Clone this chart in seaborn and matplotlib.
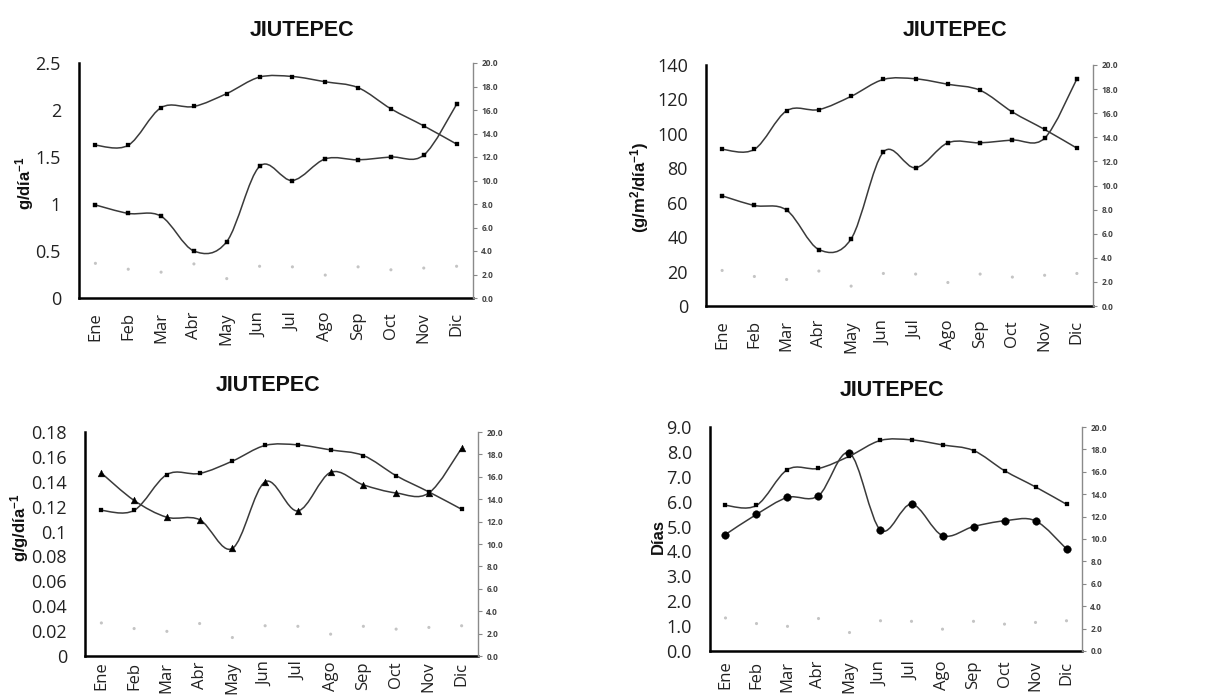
import numpy as np
import matplotlib
matplotlib.use('Agg')
import matplotlib.pyplot as plt
from matplotlib.path import Path
from matplotlib.patches import PathPatch
from matplotlib.ticker import FuncFormatter
import seaborn as sns

# Datos
meses = ['Ene', 'Feb', 'Mar', 'Abr', 'May', 'Jun', 'Jul', 'Ago', 'Sep', 'Oct', 'Nov', 'Dic']
temperatura = [13.0, 13.0, 16.2, 16.3, 17.4, 18.8, 18.85, 18.4, 17.9, 16.1, 14.65, 13.1]
puntos_grises = [2.95, 2.45, 2.2, 2.9, 1.65, 2.7, 2.65, 1.95, 2.65, 2.4, 2.55, 2.7]
crec_diario = [0.99, 0.90, 0.87, 0.50, 0.60, 1.40, 1.25, 1.48, 1.47, 1.50, 1.52, 2.06]
crec_area = [64, 58.4, 55.7, 32.8, 39.0, 89.4, 80.3, 94.8, 94.8, 96.4, 97.5, 131.9]
tasa_relativa = [0.147, 0.125, 0.1115, 0.1095, 0.0864, 0.140, 0.1166, 0.1476, 0.1375, 0.131, 0.131, 0.167]
dias = [4.68, 5.49, 6.17, 6.24, 7.95, 4.86, 5.90, 4.64, 5.00, 5.23, 5.23, 4.10]

W, H = 1213, 700

sns.set_theme(style='white')
plt.rcParams['font.family'] = ['Open Sans', 'DejaVu Sans']
plt.rcParams['mathtext.default'] = 'regular'

fig = plt.figure(figsize=(W / 100, H / 100), dpi=100)
fig.patch.set_facecolor('white')

COLOR_LINEA = '#3a3a3a'


def curva_suave(ax, x, y, color=COLOR_LINEA, lw=1.1):
    # línea suavizada estilo Excel (Bezier tipo Catmull-Rom)
    pts = np.column_stack([x, y]).astype(float)
    ext = np.vstack([pts[0], pts, pts[-1]])
    verts = [pts[0]]
    codes = [Path.MOVETO]
    for i in range(len(pts) - 1):
        p0, p1, p2, p3 = ext[i], ext[i + 1], ext[i + 2], ext[i + 3]
        verts += [p1 + (p2 - p0) / 6, p2 - (p3 - p1) / 6, p2]
        codes += [Path.CURVE4] * 3
    ax.add_patch(PathPatch(Path(verts, codes), fill=False, edgecolor=color, lw=lw, zorder=3))


def panel(caja, valores, ylim, paso, fmt, marcador, tam, ylabel, lab_xy, titulo_xy, xpad=10):
    x0, y0, x1, y1 = caja
    ax = fig.add_axes([x0 / W, 1 - y1 / H, (x1 - x0) / W, (y1 - y0) / H])
    pos = np.arange(len(meses))

    curva_suave(ax, pos, valores)
    sns.scatterplot(x=pos, y=valores, ax=ax, marker=marcador, s=tam, color='black',
                    edgecolor='black', linewidth=0.3, zorder=4, legend=False)
    ax.set_xlim(-0.5, len(meses) - 0.5)
    ax.set_ylim(*ylim)
    ax.set_yticks(np.arange(ylim[0], ylim[1] + paso / 2, paso))
    ax.yaxis.set_major_formatter(FuncFormatter(fmt))
    ax.set_xticks(pos)
    ax.set_xticklabels(meses, rotation=90)
    ax.tick_params(axis='y', length=0, pad=13, labelsize=13, labelcolor='#222222')
    ax.tick_params(axis='x', length=0, pad=xpad, labelsize=12, labelcolor='#222222')
    for s in ['top', 'right']:
        ax.spines[s].set_visible(False)
    for s in ['left', 'bottom']:
        ax.spines[s].set_color('black')
        ax.spines[s].set_linewidth(1.8)
    ax.set_ylabel('')
    ax.set_xlabel('')

    ax2 = ax.twinx()
    sns.scatterplot(x=pos, y=puntos_grises, ax=ax2, marker='o', s=5, color='#c4c4c4',
                    edgecolor='none', zorder=2, legend=False)
    curva_suave(ax2, pos, temperatura)
    sns.scatterplot(x=pos, y=temperatura, ax=ax2, marker='s', s=9, color='black',
                    edgecolor='black', linewidth=0.2, zorder=4, legend=False)
    ax2.set_xlim(-0.5, len(meses) - 0.5)
    ax2.set_ylim(0, 20)
    ax2.set_yticks(np.arange(0, 21, 2))
    ax2.yaxis.set_major_formatter(FuncFormatter(lambda v, p: f'{v:.1f}'))
    ax2.tick_params(axis='y', length=3, width=0.8, color='#888888', pad=3, labelsize=6,
                    labelcolor='#444444', direction='out', right=True)
    for lab in ax2.get_yticklabels():
        lab.set_fontweight('bold')
    for s in ['top', 'left', 'bottom']:
        ax2.spines[s].set_visible(False)
    ax2.spines['right'].set_color('#8a8a8a')
    ax2.spines['right'].set_linewidth(1.0)
    ax2.set_ylabel('')

    fig.text(lab_xy[0] / W, 1 - lab_xy[1] / H, ylabel, rotation=90, ha='center', va='center',
             fontsize=12, fontweight='bold', family=['Liberation Sans', 'DejaVu Sans'], color='#111111')
    fig.text(titulo_xy[0] / W, 1 - titulo_xy[1] / H, 'JIUTEPEC', ha='center', va='center',
             fontsize=15.5, fontweight='bold', family=['Liberation Sans', 'DejaVu Sans'], color='#111111')
    return ax, ax2


panel((79, 63, 473, 298), crec_diario, (0, 2.5), 0.5, lambda v, p: f'{v:g}', 's', 12,
      'g/día$^{-1}$', (25, 183), (302, 31))
panel((706, 65, 1093, 306), crec_area, (0, 140), 20, lambda v, p: f'{v:g}', 's', 11,
      '(g/m$^{2}$/día$^{-1}$)', (640, 187), (955, 31))
panel((85, 432, 478, 656), tasa_relativa, (0, 0.18), 0.02, lambda v, p: f'{round(v, 2):g}', '^', 24,
      'g/g/día$^{-1}$', (20, 528), (268, 385), xpad=4)
panel((710, 427, 1082, 651), dias, (0, 9), 1, lambda v, p: f'{v:.1f}', 'o', 30,
      'Días', (658, 537), (892, 391), xpad=7)

fig.savefig('out.png', dpi=100, facecolor='white')
